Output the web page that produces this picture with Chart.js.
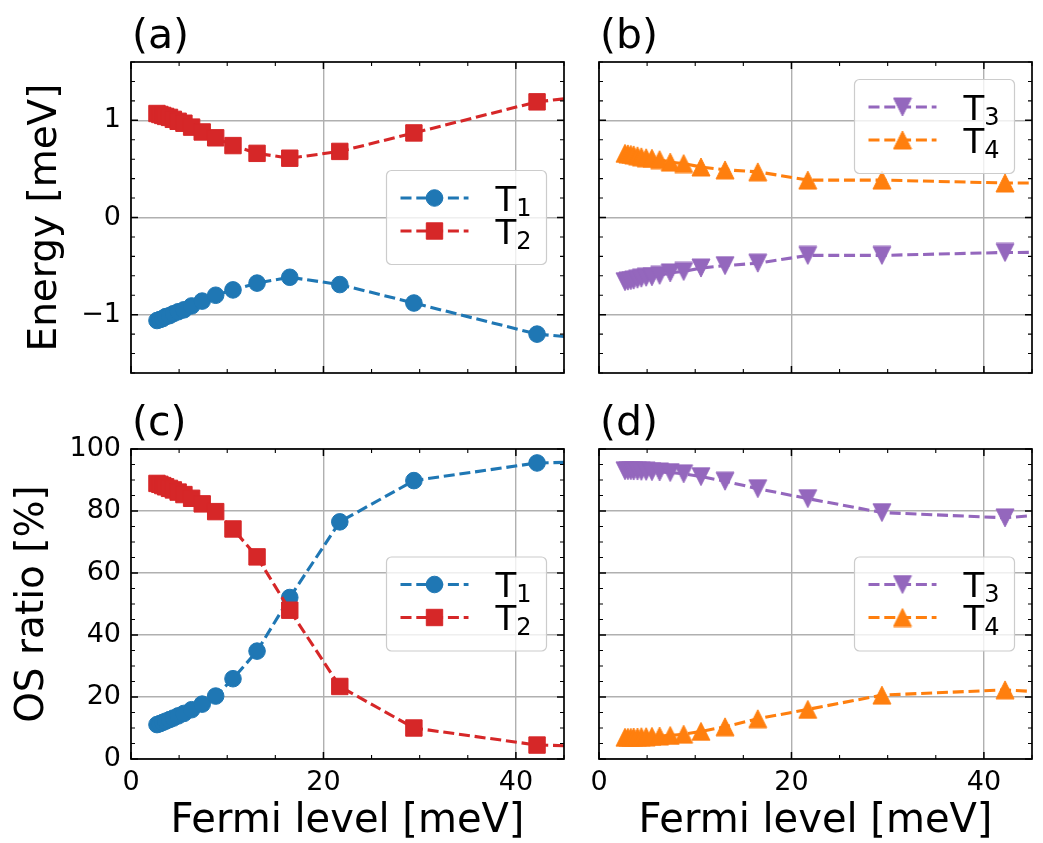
<!DOCTYPE html>
<html>
<head>
<meta charset="utf-8">
<script src="https://cdn.jsdelivr.net/npm/chart.js@4.4.1/dist/chart.umd.min.js"></script>
<style>
  html, body { margin: 0; padding: 0; background: #fff; }
  #wrap { position: relative; width: 1043px; height: 843px; }
  #wrap canvas { position: absolute; left: 0; top: 0; }
</style>
</head>
<body>
<div id="wrap">
  <canvas id="panelA" width="1043" height="843"></canvas>
  <canvas id="panelB" width="1043" height="843"></canvas>
  <canvas id="panelC" width="1043" height="843"></canvas>
  <canvas id="panelD" width="1043" height="843"></canvas>
</div>
<script>
// Fermi level [meV] for each computed point (last one lies beyond the axis limit)
const fermiLevel = [2.7, 3.0, 3.3, 3.6, 4.0, 4.4, 4.9, 5.5, 6.3, 7.4, 8.8, 10.6, 13.1, 16.5, 21.7, 29.4, 42.2, 63.0];

// energies [meV]
const energyT1 = [-1.06, -1.05, -1.04, -1.02, -1.01, -0.99, -0.97, -0.95, -0.91, -0.86, -0.80, -0.745, -0.675, -0.615, -0.69, -0.88, -1.20, -1.38];
const energyT2 = [1.07, 1.06, 1.05, 1.04, 1.03, 1.01, 0.99, 0.97, 0.93, 0.88, 0.82, 0.74, 0.66, 0.61, 0.68, 0.87, 1.19, 1.42];
const energyT3 = [-0.66, -0.655, -0.65, -0.645, -0.635, -0.625, -0.615, -0.61, -0.595, -0.57, -0.555, -0.52, -0.495, -0.47, -0.39, -0.39, -0.36, -0.35];
const energyT4 = [0.66, 0.655, 0.65, 0.645, 0.635, 0.625, 0.615, 0.61, 0.595, 0.57, 0.555, 0.52, 0.49, 0.47, 0.385, 0.385, 0.355, 0.35];

// oscillator strength ratio [%]
const osT1 = [11.1, 11.4, 11.8, 12.2, 12.7, 13.2, 13.9, 14.7, 15.9, 17.7, 20.3, 25.9, 34.8, 52.1, 76.5, 89.8, 95.5, 96.8];
const osT2 = [88.9, 88.6, 88.2, 87.8, 87.3, 86.8, 86.1, 85.3, 84.1, 82.3, 79.8, 74.2, 65.2, 48.0, 23.4, 10.0, 4.5, 3.0];
const osT3 = [93.0, 93.0, 93.0, 92.9, 92.9, 92.8, 92.8, 92.7, 92.6, 92.4, 92.0, 91.1, 89.6, 87.2, 84.0, 79.5, 77.8, 83.0];
const osT4 = [7.0, 7.0, 7.0, 7.1, 7.1, 7.2, 7.2, 7.3, 7.4, 7.6, 8.0, 8.9, 10.4, 13.0, 16.0, 20.6, 22.3, 18.6];

// tick values
const fermiTicks = [0, 20, 40];
const energyTicks = [-1, 0, 1];
const osTicks = [0, 20, 40, 60, 80, 100];

const W = 1043, H = 843;
const FONT = '"DejaVu Sans"';
const blue = '#1f77b4', red = '#d62728', purple = '#9467bd', orange = '#ff7f0e';

function triangle(color, size, down) {
  const c = document.createElement('canvas');
  const s = Math.ceil(size + 2);
  c.width = s; c.height = s;
  const g = c.getContext('2d');
  const h = size / 2, m = s / 2;
  g.beginPath();
  if (down) { g.moveTo(m, m + h); g.lineTo(m - h, m - h); g.lineTo(m + h, m - h); }
  else { g.moveTo(m, m - h); g.lineTo(m - h, m + h); g.lineTo(m + h, m + h); }
  g.closePath();
  g.fillStyle = color; g.fill();
  g.lineWidth = 1; g.strokeStyle = color; g.stroke();
  return c;
}

const markers = {
  circle: { pointStyle: 'circle', pointRadius: 8.3 },
  square: { pointStyle: 'rect', pointRadius: 11.6 },
  up: c => ({ pointStyle: triangle(c, 18, false), pointRadius: 9 }),
  down: c => ({ pointStyle: triangle(c, 18, true), pointRadius: 9 })
};

function series(label, values, color, marker, order) {
  return {
    label,
    data: fermiLevel.map((x, i) => ({ x, y: values[i] })),
    borderColor: color, backgroundColor: color,
    pointBackgroundColor: color, pointBorderColor: color, pointBorderWidth: 1,
    borderWidth: 3.1, borderDash: [11, 4.8], tension: 0, fill: false,
    clip: 0, order,
    ...(typeof marker === 'function' ? marker(color) : marker)
  };
}

function drawMarker(ctx, ds, x, y) {
  const st = ds.pointStyle;
  ctx.setLineDash([]);
  if (st instanceof HTMLCanvasElement) {
    ctx.drawImage(st, x - st.width / 2, y - st.height / 2);
    return;
  }
  ctx.fillStyle = ds.backgroundColor; ctx.strokeStyle = ds.borderColor; ctx.lineWidth = 1;
  ctx.beginPath();
  if (st === 'circle') ctx.arc(x, y, ds.pointRadius, 0, Math.PI * 2);
  else { const s = ds.pointRadius * Math.SQRT1_2; ctx.rect(x - s, y - s, 2 * s, 2 * s); }
  ctx.fill(); ctx.stroke();
}

function drawLegend(chart, cfg) {
  const { ctx, chartArea: a } = chart;
  const w = 160, h = 94;
  const left = a.right - cfg.right - w;
  const top = cfg.top != null ? a.top + cfg.top : (a.top + a.bottom) / 2 - h / 2;
  ctx.save();
  ctx.beginPath();
  ctx.roundRect(left, top, w, h, 5);
  ctx.fillStyle = 'rgba(255,255,255,0.8)'; ctx.fill();
  ctx.lineWidth = 1.2; ctx.strokeStyle = '#cccccc'; ctx.stroke();
  chart.data.datasets.forEach((ds, i) => {
    const cy = top + 27.5 + i * 33;
    ctx.save();
    ctx.setLineDash(ds.borderDash); ctx.lineWidth = ds.borderWidth; ctx.strokeStyle = ds.borderColor;
    ctx.beginPath(); ctx.moveTo(left + 14, cy); ctx.lineTo(left + 82, cy); ctx.stroke();
    drawMarker(ctx, ds, left + 48, cy);
    ctx.restore();
    const [base, sub] = ds.label.split('_');
    ctx.fillStyle = '#000';
    ctx.textBaseline = 'alphabetic';
    ctx.font = `34px ${FONT}`;
    const tx = left + 109, by = cy + 12.5;
    ctx.fillText(base, tx, by);
    const bw = ctx.measureText(base).width;
    ctx.font = `24px ${FONT}`;
    ctx.fillText(sub, tx + bw, by + 5);
  });
  ctx.restore();
}

const panelDecor = {
  id: 'panelDecor',
  afterDraw(chart, args, opts) {
    const { ctx, chartArea: a, scales: { x, y } } = chart;
    ctx.save();
    ctx.strokeStyle = '#000';
    const mark = (scale, step, horizontal) => {
      const majors = scale.ticks.map(t => t.value);
      const n = Math.round((scale.max - scale.min) / step);
      for (let i = 0; i <= n; i++) {
        const v = scale.min + i * step;
        const major = majors.some(m => Math.abs(m - v) < 1e-6);
        const len = major ? 7 : 4;
        ctx.lineWidth = major ? 1.5 : 1.1;
        const p = scale.getPixelForValue(v);
        ctx.beginPath();
        if (horizontal) {
          ctx.moveTo(p, a.bottom); ctx.lineTo(p, a.bottom - len);
          ctx.moveTo(p, a.top); ctx.lineTo(p, a.top + len);
        } else {
          ctx.moveTo(a.left, p); ctx.lineTo(a.left + len, p);
          ctx.moveTo(a.right, p); ctx.lineTo(a.right - len, p);
        }
        ctx.stroke();
      }
    };
    mark(x, opts.xMinor, true);
    mark(y, opts.yMinor, false);
    ctx.lineWidth = 1.7;
    ctx.strokeRect(a.left, a.top, a.right - a.left, a.bottom - a.top);
    ctx.fillStyle = '#000';
    ctx.font = `41px ${FONT}`;
    ctx.textBaseline = 'alphabetic';
    ctx.textAlign = 'left';
    ctx.fillText(opts.label, a.left + 1, a.top - 14.5);
    ctx.restore();
    drawLegend(chart, opts.legend);
  }
};

function minusLabel(v) { return v < 0 ? '\u2212' + Math.abs(v) : String(v); }

function makePanel(id, area, p) {
  return new Chart(document.getElementById(id), {
    type: 'line',
    data: { datasets: p.datasets },
    options: {
      responsive: false, animation: false, devicePixelRatio: 1, events: [],
      layout: { padding: { left: 0, top: area.top, right: W - area.right, bottom: 0 } },
      scales: {
        x: {
          type: 'linear', min: 0, max: 45,
          afterBuildTicks: s => { s.ticks = fermiTicks.map(value => ({ value })); },
          afterFit: s => { s.height = H - area.bottom; },
          grid: { color: '#b0b0b0', lineWidth: 1.4, drawTicks: false },
          border: { display: false },
          ticks: { display: p.xLabels, color: '#000', padding: 8, maxRotation: 0, font: { family: FONT, size: 27 } },
          title: { display: p.xLabels, text: 'Fermi level [meV]', color: '#000', font: { family: FONT, size: 40, lineHeight: 1 }, padding: { top: 0, bottom: 1 } }
        },
        y: {
          type: 'linear', min: p.yMin, max: p.yMax,
          afterBuildTicks: s => { s.ticks = p.yTicks.map(value => ({ value })); },
          afterFit: s => { s.width = area.left; },
          grid: { color: '#b0b0b0', lineWidth: 1.4, drawTicks: false },
          border: { display: false },
          ticks: { display: !!p.yTitle, color: '#000', padding: 10, callback: minusLabel, font: { family: FONT, size: 27 } },
          title: { display: !!p.yTitle, text: p.yTitle || '', color: '#000', font: { family: FONT, size: 39, lineHeight: 1 }, padding: { top: p.yTitlePad || 0, bottom: 0 } }
        }
      },
      plugins: {
        legend: { display: false },
        tooltip: { enabled: false },
        panelDecor: { label: p.label, xMinor: 5, yMinor: p.yMinor, legend: p.legend }
      }
    },
    plugins: [panelDecor]
  });
}

makePanel('panelA', { left: 131, top: 62, right: 564, bottom: 373 }, {
  label: '(a)', xLabels: false, yTitle: 'Energy [meV]', yTitlePad: 26,
  yMin: -1.6, yMax: 1.6, yTicks: energyTicks, yMinor: 0.2,
  legend: { right: 17.5 },
  datasets: [series('T_1', energyT1, blue, markers.circle, 2), series('T_2', energyT2, red, markers.square, 1)]
});
makePanel('panelB', { left: 599, top: 62, right: 1032, bottom: 373 }, {
  label: '(b)', xLabels: false,
  yMin: -1.6, yMax: 1.6, yTicks: energyTicks, yMinor: 0.2,
  legend: { right: 17.5, top: 17.5 },
  datasets: [series('T_3', energyT3, purple, markers.down, 2), series('T_4', energyT4, orange, markers.up, 1)]
});
makePanel('panelC', { left: 131, top: 449, right: 564, bottom: 759 }, {
  label: '(c)', xLabels: true, yTitle: 'OS ratio [%]', yTitlePad: 13,
  yMin: 0, yMax: 100, yTicks: osTicks, yMinor: 5,
  legend: { right: 17.5 },
  datasets: [series('T_1', osT1, blue, markers.circle, 2), series('T_2', osT2, red, markers.square, 1)]
});
makePanel('panelD', { left: 599, top: 449, right: 1032, bottom: 759 }, {
  label: '(d)', xLabels: true,
  yMin: 0, yMax: 100, yTicks: osTicks, yMinor: 5,
  legend: { right: 17.5 },
  datasets: [series('T_3', osT3, purple, markers.down, 2), series('T_4', osT4, orange, markers.up, 1)]
});
</script>
</body>
</html>
